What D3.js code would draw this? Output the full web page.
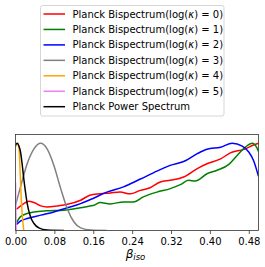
<!DOCTYPE html>
<html>
<head>
<meta charset="utf-8">
<script src="https://cdn.jsdelivr.net/npm/d3@7"></script>
<style>
  body { margin: 0; background: #fff; }
  text { font-family: "DejaVu Sans", sans-serif; }
</style>
</head>
<body>
<div id="chart"></div>
<script>
// data (beta_iso, normalised density)
const red = [[0.002,0.244],[0.017,0.308],[0.0275,0.336],[0.038,0.32],[0.052,0.282],[0.065,0.27],[0.086,0.282],[0.107,0.30],[0.134,0.347],[0.153,0.404],[0.174,0.42],[0.195,0.43],[0.215,0.44],[0.236,0.42],[0.257,0.46],[0.277,0.49],[0.298,0.556],[0.3185,0.575],[0.346,0.613],[0.374,0.71],[0.394,0.765],[0.422,0.82],[0.442,0.89],[0.47,0.93],[0.49,0.98],[0.5,1.0]]
const green = [[0.002,0.09],[0.010,0.156],[0.024,0.194],[0.038,0.213],[0.065,0.225],[0.10,0.233],[0.134,0.26],[0.153,0.282],[0.162,0.29],[0.174,0.32],[0.195,0.305],[0.222,0.328],[0.243,0.328],[0.263,0.385],[0.291,0.44],[0.3185,0.48],[0.339,0.525],[0.356,0.575],[0.370,0.567],[0.394,0.65],[0.415,0.69],[0.439,0.758],[0.456,0.86],[0.473,0.955],[0.487,1.0],[0.497,0.944],[0.5,0.906]]
const blue = [[0.002,0.068],[0.010,0.107],[0.024,0.137],[0.052,0.176],[0.079,0.213],[0.107,0.26],[0.134,0.308],[0.1616,0.373],[0.188,0.44],[0.222,0.50],[0.257,0.59],[0.291,0.68],[0.3185,0.746],[0.346,0.79],[0.374,0.88],[0.394,0.93],[0.422,0.955],[0.446,1.0],[0.4665,0.967],[0.48,0.90],[0.49,0.80],[0.5,0.62]]
const gray = [[0,0.29],[0.0103,0.50],[0.024,0.765],[0.038,0.936],[0.0516,1.0],[0.065,0.936],[0.079,0.746],[0.093,0.48],[0.1065,0.25],[0.12,0.10],[0.134,0.03],[0.155,0.005],[0.188,0]]
const orange = [[0,0.96],[0.0054,1.0],[0.0089,0.77],[0.011,0.46],[0.0136,0.2],[0.017,0]]
const violet = [[0,0.55],[0.0006,0.3],[0.0012,0]]
const black = [[0,0.98],[0.0033,1.0],[0.0068,0.97],[0.0103,0.90],[0.0136,0.765],[0.0171,0.59],[0.0206,0.44],[0.024,0.31],[0.031,0.156],[0.038,0.08],[0.048,0.03],[0.065,0.005],[0.1,0]]

// legend labels: [before κ, κ value] ; null value = plain label
const kappas = [0, 1, 2, 3, 4, 5, null]
const colors = ["red", "green", "blue", "gray", "orange", "violet", "black"]
const series = [red, green, blue, gray, orange, violet, black]
const xTicks = [0, 0.08, 0.16, 0.24, 0.32, 0.40, 0.48]

const width = 265, height = 267
const margins = {top: 134.5, right: 6.5, bottom: 36.5, left: 15.5}
const boundedWidth = width - margins.left - margins.right
const boundedHeight = height - margins.top - margins.bottom

const svg = d3.select("#chart").append("svg")
  .attr("width", width)
  .attr("height", height)

const bounds = svg.append("g")
  .attr("transform", `translate(${margins.left}, ${margins.top})`)

const xScale = d3.scaleLinear().domain([0, 0.5]).range([0, boundedWidth])
const yScale = d3.scaleLinear().domain([0, 1.1]).range([boundedHeight, 0])

bounds.append("clipPath").attr("id", "clip")
  .append("rect").attr("width", boundedWidth).attr("height", boundedHeight)

const line = d3.line()
  .x(d => xScale(d[0]))
  .y(d => yScale(d[1]))
  .curve(d3.curveMonotoneX)

bounds.append("g").attr("clip-path", "url(#clip)")
  .selectAll("path")
  .data(series)
  .enter().append("path")
    .attr("d", line)
    .attr("fill", "none")
    .attr("stroke", (d, i) => colors[i])
    .attr("stroke-width", 1.5)
    .attr("stroke-linejoin", "round")

// axes
const xAxis = bounds.append("g")
  .attr("transform", `translate(0, ${boundedHeight})`)
  .call(d3.axisBottom(xScale).tickValues(xTicks).tickFormat(d3.format(".2f")).tickSize(3.5).tickPadding(3.5))
xAxis.select(".domain").remove()
xAxis.selectAll("line").attr("stroke", "#333").attr("stroke-width", 0.8)
xAxis.selectAll("text").attr("font-size", 10).attr("fill", "#000").attr("font-family", "DejaVu Sans")

bounds.append("rect")
  .attr("width", boundedWidth)
  .attr("height", boundedHeight)
  .attr("fill", "none")
  .attr("stroke", "#333")
  .attr("stroke-width", 0.8)

const xLabel = svg.append("text")
  .attr("x", 135.5)
  .attr("y", 258)
  .attr("text-anchor", "middle")
  .attr("font-style", "italic")
xLabel.append("tspan").attr("font-size", 12).text("β")
xLabel.append("tspan").attr("font-size", 8.5).attr("dy", 2).text("iso")

// legend
const legend = svg.append("g")
legend.append("rect")
  .attr("x", 40.5).attr("y", 5.5)
  .attr("width", 183.5).attr("height", 110.5)
  .attr("rx", 2)
  .attr("fill", "#fff").attr("fill-opacity", 0.8)
  .attr("stroke", "#ccc").attr("stroke-width", 0.8)

const rows = legend.selectAll("g.row")
  .data(kappas)
  .enter().append("g")
    .attr("class", "row")
    .attr("transform", (d, i) => `translate(0, ${14 + i * 15.45})`)
rows.append("line")
  .attr("x1", 43.5).attr("x2", 65)
  .attr("stroke", (d, i) => colors[i])
  .attr("stroke-width", 1.5)
const rowText = rows.append("text")
  .attr("x", 72.5)
  .attr("dy", "0.35em")
  .attr("font-size", 10)
rowText.filter(d => d === null).text("Planck Power Spectrum")
const kRows = rowText.filter(d => d !== null)
kRows.append("tspan").text("Planck Bispectrum(log(")
kRows.append("tspan").attr("font-style", "italic").text("κ")
kRows.append("tspan").text(d => ") = " + d + ")")
</script>
</body>
</html>
